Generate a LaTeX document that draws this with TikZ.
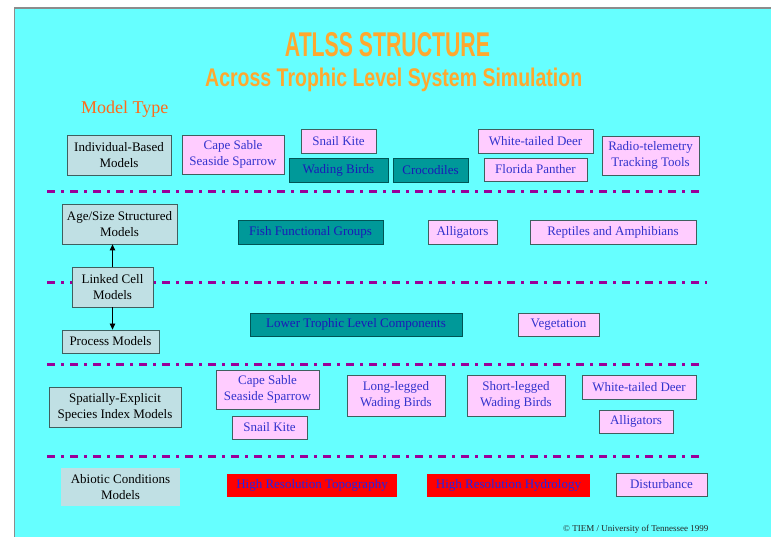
\documentclass[tikz,border=0pt]{standalone}
\usepackage{fontspec}
\setmainfont{Liberation Serif}
\newfontfamily\titlefont{Liberation Sans}
\usetikzlibrary{arrows.meta}
\definecolor{bgcyan}{HTML}{66FFFF}
\definecolor{framegray}{HTML}{8C8C8C}
\definecolor{grayfill}{HTML}{C0E0E4}
\definecolor{grayborder}{HTML}{3F5F5F}
\definecolor{pinkfill}{HTML}{FFCCFF}
\definecolor{pinktext}{HTML}{3333CC}
\definecolor{tealfill}{HTML}{009999}
\definecolor{tealborder}{HTML}{005555}
\definecolor{tealtext}{HTML}{1A1AB8}
\definecolor{redfill}{HTML}{FF0000}
\definecolor{redtext}{HTML}{2424E6}
\definecolor{sepcolor}{HTML}{990099}
\definecolor{titleorange}{HTML}{FFA82E}
\definecolor{modelorange}{HTML}{FF6A1A}
\tikzset{
  box/.style={draw=grayborder, line width=0.8pt, inner sep=0pt, align=center,
              font=\fontsize{13}{16}\selectfont},
  graybox/.style={box, fill=grayfill, text=black},
  plainbox/.style={box, draw=none, fill=grayfill, text=black},
  pinkbox/.style={box, fill=pinkfill, text=pinktext},
  tealbox/.style={box, fill=tealfill, draw=tealborder, text=tealtext},
  redbox/.style={box, fill=redfill, draw=none, text=redtext},
  sepline/.style={draw=sepcolor, line width=3pt,
                  dash pattern=on 8pt off 6pt on 2.5pt off 6.5pt},
  arr/.style={-{Triangle[length=6pt,width=5.5pt]}, line width=0.8pt},
  plaintext/.style={inner sep=0pt},
}
\begin{document}
\begin{tikzpicture}[x=1pt,y=-1pt]
\useasboundingbox (0,0) rectangle (771,537);
\fill[white] (0,0) rectangle (771,537);
\fill[bgcyan] (15,9) rectangle (771,537);
\draw[framegray, line width=1.5pt] (14.25,537) -- (14.25,8.25) -- (771,8.25);

% titles
\node[plaintext, anchor=base, text=titleorange] (title) at (387.5,57)
  {\resizebox{205pt}{24pt}{\titlefont\bfseries ATLSS STRUCTURE}};
\node[plaintext, anchor=base west, text=titleorange] (subtitle) at (205,86.5)
  {\resizebox{377pt}{18.5pt}{\titlefont\bfseries Across Trophic Level System Simulation}};
\node[plaintext, anchor=base west, text=modelorange, font=\fontsize{18}{20}\selectfont] (modeltype) at (81,114) {Model Type};

% separator lines
\draw[sepline] (47,192) -- (703,192);
\draw[sepline] (47,283) -- (707,283);
\draw[sepline] (47,364) -- (703,364);
\draw[sepline] (47,456) -- (703,456);

% row 1
\node[graybox, minimum width=104pt, minimum height=40pt] (ibm) at (119,155) {Individual-Based\\Models};
\node[pinkbox, minimum width=102pt, minimum height=39pt] (csss1) at (233,154.5) {Cape Sable\\Seaside Sparrow};
\node[pinkbox, minimum width=75pt, minimum height=24pt] (kite1) at (338.5,141) {Snail Kite};
\node[tealbox, minimum width=99pt, minimum height=24pt] (wading1) at (338.5,170) {Wading Birds};
\node[tealbox, minimum width=75pt, minimum height=24pt] (croc) at (430.5,170) {Crocodiles};
\node[pinkbox, minimum width=115pt, minimum height=24pt] (deer1) at (535.5,141) {White-tailed Deer};
\node[pinkbox, minimum width=103pt, minimum height=23pt] (panther) at (535.5,169.5) {Florida Panther};
\node[pinkbox, minimum width=97pt, minimum height=39pt] (radio) at (650.5,155.5) {Radio-telemetry\\Tracking Tools};

% row 2
\node[graybox, minimum width=115pt, minimum height=40pt] (age) at (119.5,224) {Age/Size Structured\\Models};
\node[tealbox, minimum width=145pt, minimum height=24pt] (fish) at (310.5,232) {Fish Functional Groups};
\node[pinkbox, minimum width=69pt, minimum height=24pt] (gator1) at (462.5,232) {Alligators};
\node[pinkbox, minimum width=166pt, minimum height=24pt] (reptiles) at (613,232) {Reptiles and Amphibians};

% row 3
\node[graybox, minimum width=81pt, minimum height=40pt] (linked) at (112.5,287) {Linked Cell\\Models};
\node[graybox, minimum width=97pt, minimum height=23pt] (process) at (110.5,341.5) {Process Models};
\node[tealbox, minimum width=212pt, minimum height=23pt] (lower) at (356,324.5) {Lower Trophic Level Components};
\node[pinkbox, minimum width=81pt, minimum height=23pt] (veg) at (558.5,324.5) {Vegetation};
\draw[arr] (linked.north) -- (linked.north |- age.south);
\draw[arr] (linked.south) -- (linked.south |- process.north);

% row 4
\node[graybox, minimum width=132pt, minimum height=40pt] (sesi) at (115,407) {Spatially-Explicit\\Species Index Models};
\node[pinkbox, minimum width=103pt, minimum height=39pt] (csss2) at (267.5,389.5) {Cape Sable\\Seaside Sparrow};
\node[pinkbox, minimum width=75pt, minimum height=23pt] (kite2) at (269.5,427.5) {Snail Kite};
\node[pinkbox, minimum width=98pt, minimum height=41pt] (long) at (396,395.5) {Long-legged\\Wading Birds};
\node[pinkbox, minimum width=98pt, minimum height=41pt] (short) at (516,395.5) {Short-legged\\Wading Birds};
\node[pinkbox, minimum width=114pt, minimum height=24pt] (deer2) at (639,387) {White-tailed Deer};
\node[pinkbox, minimum width=74pt, minimum height=23pt] (gator2) at (636,421.5) {Alligators};

% row 5
\node[plainbox, minimum width=119pt, minimum height=38pt] (abiotic) at (120.5,487) {Abiotic Conditions\\Models};
\node[redbox, minimum width=170pt, minimum height=23pt] (topo) at (312,485.5) {High Resolution Topography};
\node[redbox, minimum width=163pt, minimum height=23pt] (hydro) at (508.5,485.5) {High Resolution Hydrology};
\node[pinkbox, minimum width=91pt, minimum height=23pt] (disturb) at (661.5,484.5) {Disturbance};

% copyright
\node[plaintext, anchor=base west, font=\fontsize{9}{10}\selectfont, text=black!85] (copy) at (563,531) {© TIEM / University of Tennessee 1999};
\end{tikzpicture}
\end{document}
